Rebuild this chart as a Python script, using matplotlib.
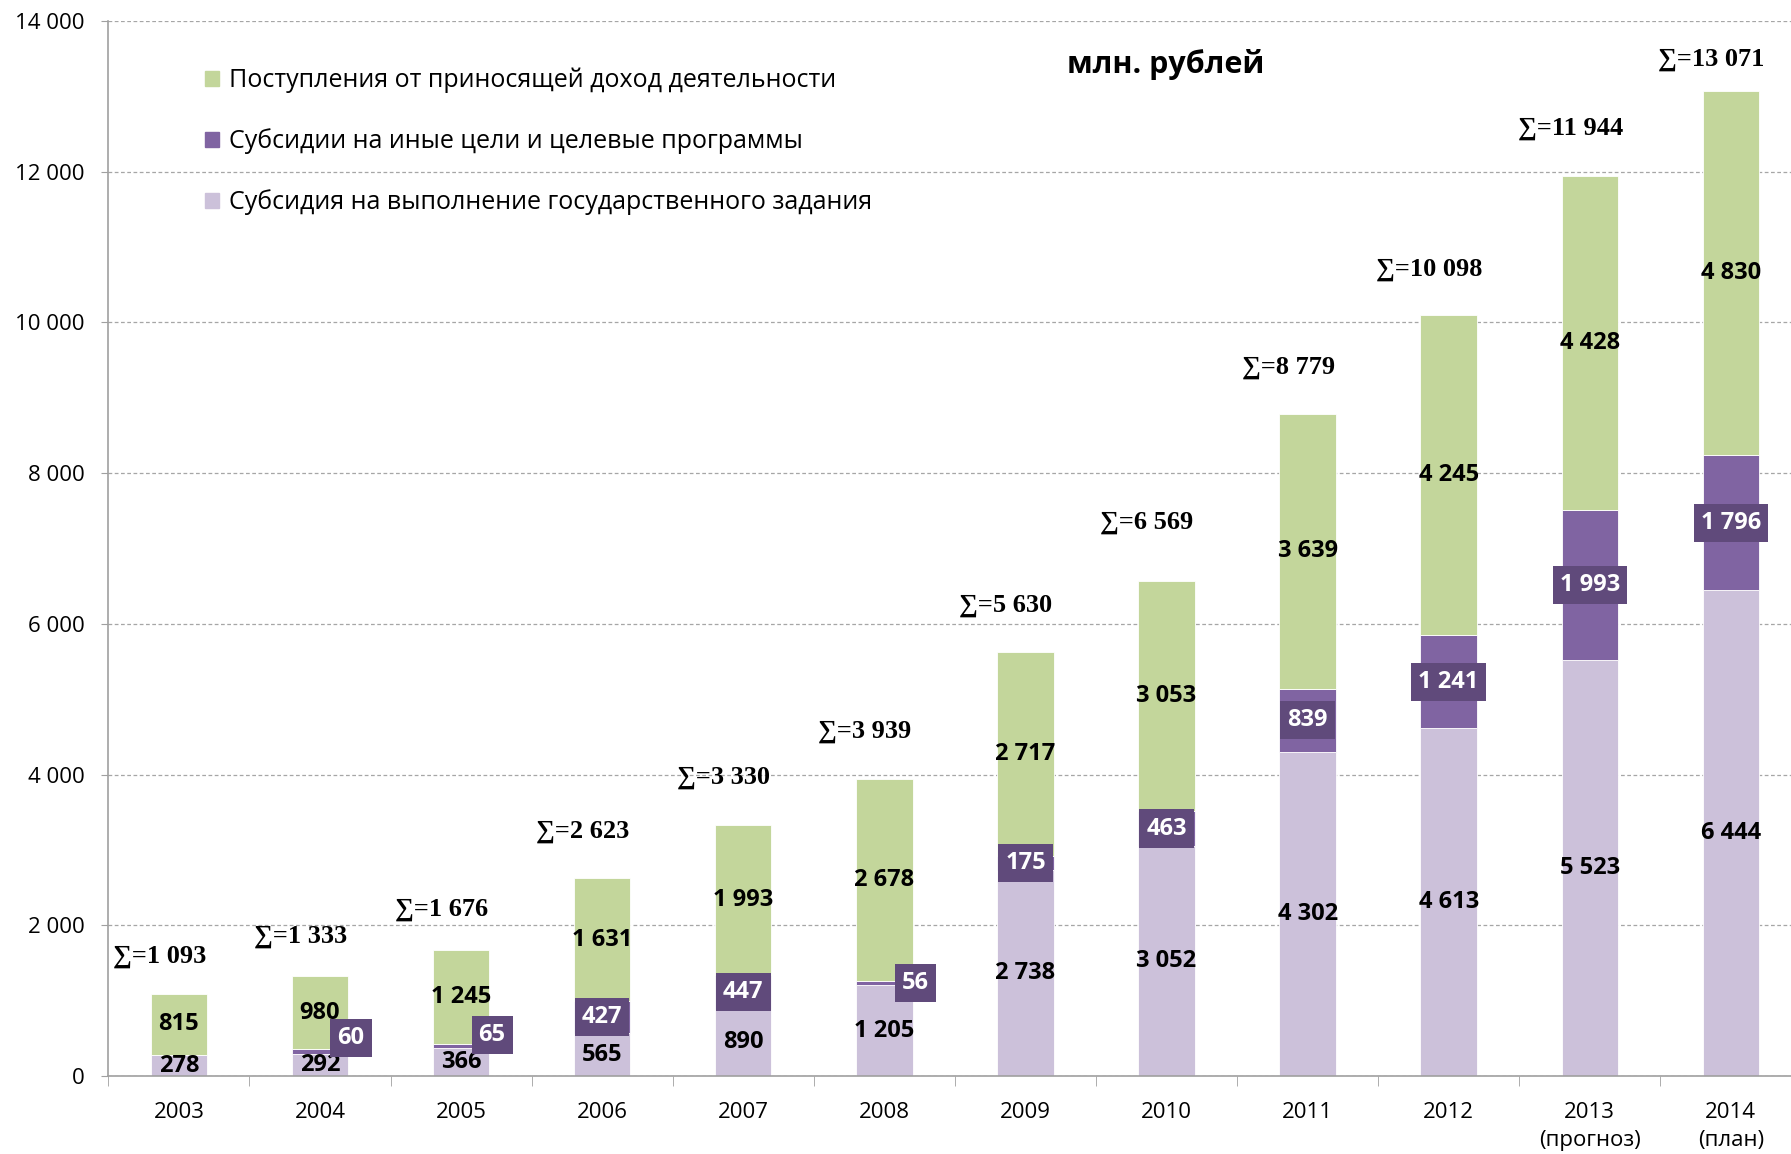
import matplotlib
matplotlib.use('Agg')
import matplotlib.pyplot as plt
from matplotlib.patches import Patch
from matplotlib.ticker import FixedLocator

years = ['2003', '2004', '2005', '2006', '2007', '2008', '2009', '2010',
         '2011', '2012', '2013\n(прогноз)', '2014\n(план)']
state_task = [278, 292, 366, 565, 890, 1205, 2738, 3052, 4302, 4613, 5523, 6444]
other_subs = [0, 60, 65, 427, 447, 56, 175, 463, 839, 1241, 1993, 1796]
income = [815, 980, 1245, 1631, 1993, 2678, 2717, 3053, 3639, 4245, 4428, 4830]
totals = [1093, 1333, 1676, 2623, 3330, 3939, 5630, 6569, 8779, 10098, 11944, 13071]

names = ['Поступления от приносящей доход деятельности',
         'Субсидии на иные цели и целевые программы',
         'Субсидия на выполнение государственного задания']

c_light = '#ccc1da'
c_mid = '#8064a2'
c_green = '#c3d69b'
c_box = '#604a7b'

SANS = ['Open Sans', 'DejaVu Sans']
SERIF = ['Liberation Serif', 'DejaVu Serif']


def fmt(v):
    return f'{v:,}'.replace(',', ' ')


fig = plt.figure(figsize=(17.91, 11.54), dpi=100)
ax = fig.add_axes([0.0605, 0.0676, 0.9453, 0.9142])

x = list(range(len(years)))
w = 0.4
bottom2 = state_task
bottom3 = [a + b for a, b in zip(state_task, other_subs)]
ax.bar(x, state_task, w, color=c_light, edgecolor='white', linewidth=0.6, zorder=2)
ax.bar(x, other_subs, w, bottom=bottom2, color=c_mid, edgecolor='white', linewidth=0.6, zorder=2)
ax.bar(x, income, w, bottom=bottom3, color=c_green, edgecolor='white', linewidth=0.6, zorder=2)

ax.set_xlim(-0.5, 11.5)
ax.set_ylim(0, 14000)
ax.set_yticks(range(0, 14001, 2000))
ax.set_yticklabels([fmt(v) for v in range(0, 14001, 2000)], family=SANS, fontsize=16)
ax.set_xticks(x)
ax.set_xticklabels(years, family=SANS, fontsize=16, linespacing=1.4)
ax.xaxis.set_minor_locator(FixedLocator([i - 0.5 for i in range(12)]))
ax.tick_params(axis='x', which='major', length=0, pad=19)
ax.tick_params(axis='x', which='minor', length=7, color='#a0a0a0', direction='out')
ax.tick_params(axis='y', length=5, color='#a0a0a0', pad=12)
ax.grid(axis='y', color='#a6a6a6', linestyle=(0, (3, 2)), linewidth=0.9, zorder=0)
ax.set_axisbelow(True)
for s in ['top', 'right']:
    ax.spines[s].set_visible(False)
for s in ['left', 'bottom']:
    ax.spines[s].set_color('#a0a0a0')
    ax.spines[s].set_linewidth(1.2)

# value labels; small purple segments get their box beside the bar
small_offsets = {1: 10, 2: 8, 5: 0}
# how high the sum label sits over each bar, in points
sum_offsets = [27, 28, 29, 34, 34, 34, 33, 42, 34, 33, 34, 23]
box = dict(boxstyle='square,pad=0.3', fc=c_box, ec='none')
for i in x:
    ax.text(i, state_task[i] / 2, fmt(state_task[i]), ha='center', va='center',
            fontsize=17, fontweight='bold', family=SANS, zorder=4)
    ax.text(i, bottom3[i] + income[i] / 2, fmt(income[i]), ha='center', va='center',
            fontsize=17, fontweight='bold', family=SANS, zorder=4)
    if other_subs[i] > 0:
        yc = bottom2[i] + other_subs[i] / 2
        if i in small_offsets:
            ax.annotate(fmt(other_subs[i]), (i + 0.22, yc), xytext=(0, small_offsets[i]),
                        textcoords='offset points', ha='center', va='center',
                        fontsize=17, fontweight='bold', color='white', family=SANS,
                        zorder=5, bbox=box)
        else:
            ax.text(i, yc, fmt(other_subs[i]), ha='center', va='center',
                    fontsize=17, fontweight='bold', color='white', family=SANS,
                    zorder=5, bbox=box)
    ax.annotate('∑=' + fmt(totals[i]), (i, totals[i]), xytext=(-14, sum_offsets[i]),
                textcoords='offset points', ha='center', va='center',
                fontsize=19, fontweight='bold', family=SERIF)

handles = [Patch(color=c_green), Patch(color=c_mid), Patch(color=c_light)]
leg = ax.legend(handles, names, loc='upper left', bbox_to_anchor=(0.044, 0.977),
                frameon=False, prop={'family': SANS, 'size': 18},
                handlelength=0.55, handleheight=0.55, handletextpad=0.4, labelspacing=1.4)

fig.text(0.651, 0.944, 'млн. рублей', ha='center', va='center',
         fontsize=22, fontweight='bold', family=SANS)

fig.savefig('out.png', dpi=100)
